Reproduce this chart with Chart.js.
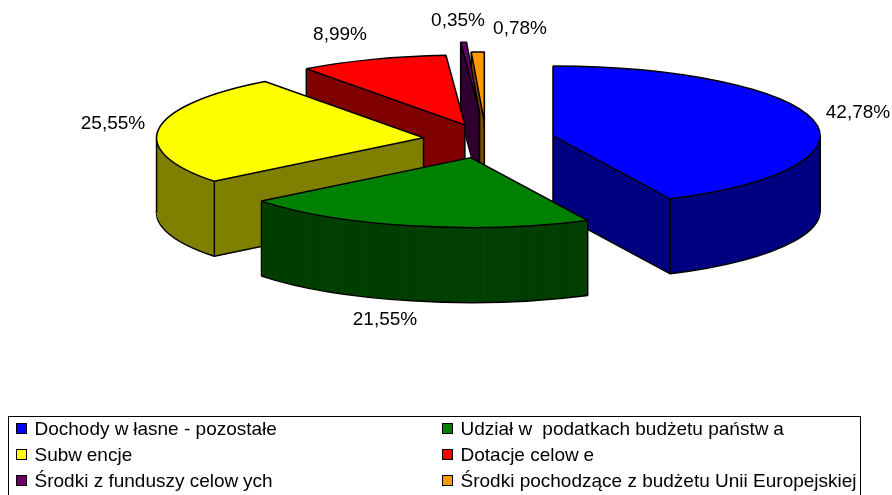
<!DOCTYPE html>
<html lang="pl">
<head>
<meta charset="utf-8">
<title>Struktura dochodów</title>
<script src="https://cdn.jsdelivr.net/npm/chart.js@4/dist/chart.umd.min.js"></script>
<style>
  html, body { margin: 0; padding: 0; background: #fff; overflow: hidden; }
  #wrap { position: relative; width: 892px; height: 495px; overflow: hidden; }
  #pie3d { position: absolute; left: 0; top: 0; }
  #legend {
    position: absolute; left: 8px; top: 416px; width: 851px; height: 90px;
    border: 1.5px solid #000; box-sizing: content-box;
    font: 19px "Liberation Sans", Arial, sans-serif; color: #000;
  }
  .item { position: absolute; white-space: nowrap; line-height: 20px; height: 20px; }
  .box { position: absolute; left: -19px; top: 4px; width: 9px; height: 9px; border: 1.5px solid #000; }
  .w { letter-spacing: .25em; }
</style>
</head>
<body>
<div id="wrap">
  <canvas id="pie3d" width="892" height="495"></canvas>
  <div id="legend"></div>
</div>
<script>
const categories = [
  "Dochody własne - pozostałe",
  "Udział w podatkach budżetu państwa",
  "Subwencje",
  "Dotacje celowe",
  "Środki z funduszy celowych",
  "Środki pochodzące z budżetu Unii Europejskiej"
];
const shares = [42.78, 21.55, 25.55, 8.99, 0.35, 0.78];
const shareLabels = ["42,78%", "21,55%", "25,55%", "8,99%", "0,35%", "0,78%"];

const topColors = ["#0000FF", "#008000", "#FFFF00", "#FF0000", "#660066", "#FF9900"];
const wallColors = ["#000080", "#004000", "#808000", "#800000", "#330033", "#804D00"];

// how far each slice is pulled out of the pie, in px
const explode = [69, 69, 63, 61, 107, 69];
// back slices first, so the front ones cover them
const paintOrder = [5, 4, 3, 2, 0, 1];
// label centres
const labelX = [858, 385, 113, 340, 458, 520];
const labelY = [113, 320, 124, 35, 21, 29];

const pieX = 486, pieY = 140, squash = 0.262, depth = 75;

const pie3dPlugin = {
  id: "pie3d",
  beforeDatasetsDraw(chart) {
    const ctx = chart.ctx;
    const arcs = chart.getDatasetMeta(0).data;
    const base = ctx.getTransform();

    // keep the outline 1 line wide even though the pie is squashed
    ctx.stroke = function () {
      const t = ctx.getTransform();
      ctx.setTransform(base);
      CanvasRenderingContext2D.prototype.stroke.call(ctx);
      ctx.setTransform(t);
    };

    const drawArc = (arc, dx, dy, fill, line) => {
      const saved = arc.options;
      arc.options = { ...saved, backgroundColor: fill, borderWidth: line };
      ctx.save();
      ctx.translate(pieX + dx, pieY + dy);
      ctx.scale(1, squash);
      ctx.translate(-arc.x, -arc.y);
      arc.draw(ctx);
      ctx.restore();
      arc.options = saved;
    };

    paintOrder.forEach((i) => {
      const arc = arcs[i];
      const mid = (arc.startAngle + arc.endAngle) / 2;
      const dx = Math.cos(mid) * explode[i];
      const dy = Math.sin(mid) * explode[i] * squash;
      const R = arc.outerRadius;

      // the wall: a stack of dark copies, outlined only at the bottom
      drawArc(arc, dx, dy + depth, wallColors[i], 1.5);
      for (let d = depth - 1.5; d > 0; d -= 0.25) {
        drawArc(arc, dx, dy + d, wallColors[i], 0);
      }

      // vertical edges: silhouette and front corners
      const at = (a) => ({ x: pieX + dx + Math.cos(a) * R, y: pieY + dy + Math.sin(a) * R * squash });
      const apex = { x: pieX + dx, y: pieY + dy };
      const start = at(arc.startAngle), end = at(arc.endAngle);
      const points = [apex, start, end];
      for (const a of [0, Math.PI, 2 * Math.PI]) {
        if (a >= arc.startAngle && a <= arc.endAngle) points.push(at(a));
      }
      const minX = Math.min(...points.map((p) => p.x));
      const maxX = Math.max(...points.map((p) => p.x));
      ctx.save();
      ctx.strokeStyle = "#000";
      ctx.lineWidth = 1.5;
      points.forEach((p) => {
        const edge = Math.abs(p.x - minX) < 0.5 || Math.abs(p.x - maxX) < 0.5;
        const front = p !== apex && p.y > apex.y;
        if (edge || front) {
          ctx.beginPath();
          ctx.moveTo(p.x, p.y);
          ctx.lineTo(p.x, p.y + depth);
          ctx.stroke();
        }
      });
      ctx.restore();

      drawArc(arc, dx, dy, topColors[i], 1.5);
    });

    delete ctx.stroke;

    ctx.save();
    ctx.fillStyle = "#000";
    ctx.font = '19px "Liberation Sans", Arial, sans-serif';
    ctx.textAlign = "center";
    ctx.textBaseline = "middle";
    shareLabels.forEach((t, i) => ctx.fillText(t, labelX[i], labelY[i]));
    ctx.restore();
    return false;
  }
};

new Chart(document.getElementById("pie3d"), {
  type: "pie",
  data: {
    labels: categories,
    datasets: [{
      data: shares,
      backgroundColor: topColors,
      borderColor: "#000",
      borderWidth: 1.5
    }]
  },
  options: {
    responsive: false,
    animation: false,
    radius: 267,
    events: [],
    plugins: { legend: { display: false }, tooltip: { enabled: false } }
  },
  plugins: [pie3dPlugin]
});

// legend: two columns, filled row by row
const legendEl = document.getElementById("legend");
categories.forEach((name, i) => {
  const item = document.createElement("div");
  item.className = "item";
  item.style.left = (i % 2 === 0 ? 25.5 : 451.5) + "px";
  item.style.top = (2 + 26 * Math.floor(i / 2)) + "px";
  item.innerHTML = '<span class="box" style="background:' + topColors[i] + '"></span>' +
    name.replace(/w/g, '<span class="w">w</span>');
  legendEl.appendChild(item);
});
</script>
</body>
</html>
